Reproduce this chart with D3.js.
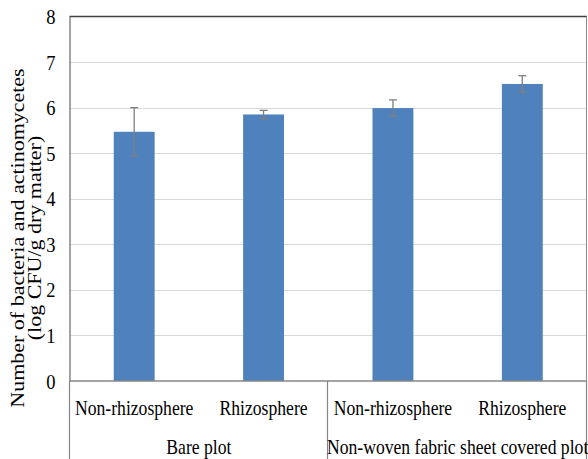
<!DOCTYPE html>
<html>
<head>
<meta charset="utf-8">
<script src="https://cdn.jsdelivr.net/npm/d3@7"></script>
<style>
  html, body { margin: 0; padding: 0; background: #fff; }
  svg { display: block; }
</style>
</head>
<body>
<div id="chart"></div>
<script>
// Bacteria and actinomycetes counts by plot type and soil zone
const groups = ["Bare plot", "Non-woven fabric sheet covered plot"];
const categories = ["Non-rhizosphere", "Rhizosphere", "Non-rhizosphere", "Rhizosphere"];
const groupIndex = [0, 0, 1, 1];
const means = [5.47, 5.85, 5.99, 6.52];
const errors = [0.53, 0.09, 0.18, 0.18];
const yTicks = [0, 1, 2, 3, 4, 5, 6, 7, 8];
const yTitle = ["Number of bacteria  and actinomycetes", "(log CFU/g dry matter)"];

const W = 588, H = 459;
const plot = { left: 69.5, right: 587, top: 16.5, bottom: 381 };
const squeeze = 0.84; // narrow serif glyphs
const SERIF = "'Liberation Serif', 'Times New Roman', 'DejaVu Serif', serif";

const svg = d3.select("#chart").append("svg")
  .attr("width", W).attr("height", H);

const x = d3.scaleBand()
  .domain(d3.range(categories.length))
  .range([plot.left, plot.right])
  .paddingInner(0.684)
  .paddingOuter(0.342);

const y = d3.scaleLinear()
  .domain([0, 8])
  .range([plot.bottom, plot.top]);

// horizontal gridlines
svg.append("g").selectAll("line")
  .data(yTicks.filter(t => t > 0 && t < 8))
  .join("line")
  .attr("x1", plot.left).attr("x2", plot.right)
  .attr("y1", d => Math.round(y(d)) + 0.5).attr("y2", d => Math.round(y(d)) + 0.5)
  .attr("stroke", "#d9d9d9").attr("stroke-width", 1);

// plot frame: dark top, grey right
svg.append("line")
  .attr("x1", plot.left).attr("x2", plot.right)
  .attr("y1", y(8)).attr("y2", y(8))
  .attr("stroke", "#404040").attr("stroke-width", 1.5);
svg.append("line")
  .attr("x1", plot.right - 0.5).attr("x2", plot.right - 0.5)
  .attr("y1", y(8)).attr("y2", plot.bottom)
  .attr("stroke", "#8c8c8c").attr("stroke-width", 1);

// bars
svg.append("g").selectAll("rect")
  .data(means)
  .join("rect")
  .attr("x", (d, i) => x(i))
  .attr("width", x.bandwidth())
  .attr("y", d => y(d))
  .attr("height", d => y(0) - y(d))
  .attr("fill", "#4f81bd");

// error bars
const eb = svg.append("g").attr("stroke", "#7f7f7f").attr("stroke-width", 1.3);
means.forEach((m, i) => {
  const cx = x(i) + x.bandwidth() / 2;
  const lo = y(m - errors[i]), hi = y(m + errors[i]);
  eb.append("line").attr("x1", cx).attr("x2", cx).attr("y1", lo).attr("y2", hi);
  eb.append("line").attr("x1", cx - 4).attr("x2", cx + 4).attr("y1", lo).attr("y2", lo);
  eb.append("line").attr("x1", cx - 4).attr("x2", cx + 4).attr("y1", hi).attr("y2", hi);
});

// y axis
const yAxis = svg.append("g")
  .attr("transform", `translate(${plot.left},0)`)
  .call(d3.axisLeft(y).tickValues(yTicks).tickSize(0).tickPadding(14).tickFormat(d3.format("d")));
yAxis.attr("font-family", null).attr("font-size", null);
yAxis.select(".domain").attr("stroke", "#868686").attr("stroke-width", 1.5);
yAxis.selectAll(".tick text").each(function () {
  const t = d3.select(this);
  const ty = +t.attr("y") || 0;
  t.style("font-family", SERIF)
   .style("font-size", "22px")
   .attr("fill", "#000")
   .attr("x", null)
   .attr("transform", `translate(-14,${ty}) scale(${squeeze},1)`);
});

// category baseline
svg.append("line")
  .attr("x1", plot.left).attr("x2", plot.right)
  .attr("y1", plot.bottom).attr("y2", plot.bottom)
  .attr("stroke", "#868686").attr("stroke-width", 1.5);

// group separators below the axis
const step = x.step();
const bounds = [0, 2, 4].map(i => plot.left + i * step);
svg.append("g").selectAll("line")
  .data(bounds)
  .join("line")
  .attr("x1", d => Math.round(d) - 0.5).attr("x2", d => Math.round(d) - 0.5)
  .attr("y1", plot.bottom).attr("y2", H)
  .attr("stroke", "#868686").attr("stroke-width", 1.2);

// category labels
svg.append("g").selectAll("text")
  .data(categories)
  .join("text")
  .attr("text-anchor", "middle")
  .style("font-family", SERIF)
  .style("font-size", "21px")
  .attr("fill", "#000")
  .attr("transform", (d, i) => `translate(${x(i) + x.bandwidth() / 2},415) scale(${squeeze},1)`)
  .text(d => d);

// group labels
svg.append("g").selectAll("text")
  .data(groups)
  .join("text")
  .attr("text-anchor", "middle")
  .style("font-family", SERIF)
  .style("font-size", "21px")
  .attr("fill", "#000")
  .attr("transform", (d, gi) => {
    const idx = d3.range(categories.length).filter(i => groupIndex[i] === gi);
    const cx = (plot.left + idx[0] * step + plot.left + (idx[idx.length - 1] + 1) * step) / 2;
    return `translate(${cx},454) scale(${squeeze},1)`;
  })
  .text(d => d);

// y title, two lines
const tcy = 238;
svg.append("g").selectAll("text")
  .data(yTitle)
  .join("text")
  .attr("text-anchor", "middle")
  .style("font-family", SERIF)
  .style("font-size", "22px")
  .attr("fill", "#000")
  .attr("transform", (d, i) => `translate(${i === 0 ? 24 : 41},${tcy}) rotate(-90) scale(1,${squeeze})`)
  .text(d => d);
</script>
</body>
</html>
